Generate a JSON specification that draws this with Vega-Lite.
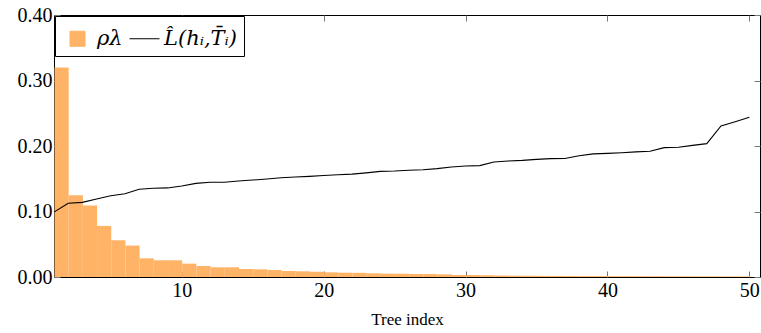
{
  "$schema": "https://vega.github.io/schema/vega-lite/v6.json",
  "width": 706,
  "height": 262,
  "autosize": "none",
  "padding": {"left": 54, "top": 15, "right": 1, "bottom": 56},
  "background": "white",
  "config": {
    "font": "Liberation Serif",
    "style": {
      "guide-label": {"font": "Liberation Serif", "fontSize": 20, "fill": "black"},
      "guide-title": {"font": "Liberation Serif", "fontSize": 17, "fill": "black", "fontWeight": "normal"}
    },
    "view": {"stroke": "black", "strokeWidth": 1},
    "axis": {
      "labelFont": "Liberation Serif",
      "titleFont": "Liberation Serif",
      "labelFontSize": 20,
      "titleFontSize": 17,
      "labelColor": "black",
      "titleColor": "black",
      "titleFontWeight": "normal",
      "domain": false,
      "grid": false,
      "tickColor": "#777",
      "tickWidth": 1,
      "tickSize": 6,
      "offset": -6
    },
    "legend": {
      "orient": "top-left",
      "offset": 1,
      "padding": 7,
      "strokeColor": "black",
      "fillColor": "white",
      "direction": "horizontal",
      "columnPadding": 4,
      "labelFont": "DejaVu Serif",
      "labelFontSize": 21,
      "labelFontStyle": "italic",
      "labelColor": "black",
      "labelLimit": 200,
      "cornerRadius": 0
    }
  },
  "data": {
    "values": [
      {"tree": 1, "rho": 0.320, "loss": 0.099},
      {"tree": 2, "rho": 0.125, "loss": 0.1125},
      {"tree": 3, "rho": 0.109, "loss": 0.114},
      {"tree": 4, "rho": 0.078, "loss": 0.119},
      {"tree": 5, "rho": 0.056, "loss": 0.124},
      {"tree": 6, "rho": 0.048, "loss": 0.127},
      {"tree": 7, "rho": 0.0285, "loss": 0.134},
      {"tree": 8, "rho": 0.0255, "loss": 0.1354},
      {"tree": 9, "rho": 0.0255, "loss": 0.136},
      {"tree": 10, "rho": 0.0204, "loss": 0.139},
      {"tree": 11, "rho": 0.0168, "loss": 0.143},
      {"tree": 12, "rho": 0.0148, "loss": 0.1446},
      {"tree": 13, "rho": 0.0148, "loss": 0.1446},
      {"tree": 14, "rho": 0.0122, "loss": 0.1466},
      {"tree": 15, "rho": 0.0117, "loss": 0.148},
      {"tree": 16, "rho": 0.0107, "loss": 0.1496},
      {"tree": 17, "rho": 0.0092, "loss": 0.1516},
      {"tree": 18, "rho": 0.0087, "loss": 0.1527},
      {"tree": 19, "rho": 0.0081, "loss": 0.1537},
      {"tree": 20, "rho": 0.0071, "loss": 0.155},
      {"tree": 21, "rho": 0.0066, "loss": 0.156},
      {"tree": 22, "rho": 0.0064, "loss": 0.157},
      {"tree": 23, "rho": 0.0056, "loss": 0.159},
      {"tree": 24, "rho": 0.0051, "loss": 0.1613},
      {"tree": 25, "rho": 0.0050, "loss": 0.1618},
      {"tree": 26, "rho": 0.0046, "loss": 0.163},
      {"tree": 27, "rho": 0.0045, "loss": 0.1638},
      {"tree": 28, "rho": 0.0040, "loss": 0.1654},
      {"tree": 29, "rho": 0.0031, "loss": 0.168},
      {"tree": 30, "rho": 0.0030, "loss": 0.1695},
      {"tree": 31, "rho": 0.0027, "loss": 0.170},
      {"tree": 32, "rho": 0.0023, "loss": 0.1756},
      {"tree": 33, "rho": 0.0021, "loss": 0.1772},
      {"tree": 34, "rho": 0.0019, "loss": 0.178},
      {"tree": 35, "rho": 0.0017, "loss": 0.1796},
      {"tree": 36, "rho": 0.0016, "loss": 0.1807},
      {"tree": 37, "rho": 0.0015, "loss": 0.181},
      {"tree": 38, "rho": 0.0014, "loss": 0.185},
      {"tree": 39, "rho": 0.0014, "loss": 0.188},
      {"tree": 40, "rho": 0.0013, "loss": 0.1888},
      {"tree": 41, "rho": 0.0013, "loss": 0.1898},
      {"tree": 42, "rho": 0.0012, "loss": 0.191},
      {"tree": 43, "rho": 0.0012, "loss": 0.192},
      {"tree": 44, "rho": 0.0011, "loss": 0.1975},
      {"tree": 45, "rho": 0.0011, "loss": 0.198},
      {"tree": 46, "rho": 0.0010, "loss": 0.201},
      {"tree": 47, "rho": 0.0010, "loss": 0.2036},
      {"tree": 48, "rho": 0.0009, "loss": 0.2305},
      {"tree": 49, "rho": 0.0009, "loss": 0.237},
      {"tree": 50, "rho": null, "loss": 0.2438}
    ]
  },
  "layer": [
    {
      "mark": {"type": "bar", "binSpacing": 0, "clip": true},
      "encoding": {
        "x": {
          "field": "tree",
          "type": "quantitative",
          "bin": {"binned": true, "step": 1},
          "scale": {"domain": [1, 50.75], "nice": false, "zero": false},
          "axis": {
            "values": [10, 20, 30, 40, 50],
            "format": "d",
            "title": "Tree index",
            "labelPadding": 3,
            "titlePadding": 11
          }
        },
        "y": {
          "field": "rho",
          "type": "quantitative",
          "scale": {"domain": [0, 0.4], "nice": false},
          "axis": {
            "values": [0, 0.1, 0.2, 0.3, 0.4],
            "format": ".2f",
            "title": null,
            "labelPadding": 2
          }
        },
        "color": {
          "datum": "ρλ",
          "type": "nominal",
          "scale": {"domain": ["ρλ", "L̂(hᵢ,T̄ᵢ)"], "range": ["#FFB366", "black"]},
          "legend": {
            "title": null,
            "encode": {
              "symbols": {
                "update": {
                  "shape": {"signal": "datum.value == 'ρλ' ? 'square' : 'stroke'"},
                  "size": {"signal": "datum.value == 'ρλ' ? 225 : 900"},
                  "fill": {"signal": "datum.value == 'ρλ' ? '#FFB366' : 'transparent'"},
                  "stroke": {"signal": "datum.value == 'ρλ' ? 'transparent' : 'black'"},
                  "strokeWidth": {"value": 1},
                  "opacity": {"value": 1}
                }
              }
            }
          }
        }
      }
    },
    {
      "mark": {"type": "line", "strokeWidth": 1.1, "clip": true},
      "encoding": {
        "x": {
          "field": "tree",
          "type": "quantitative",
          "axis": {"orient": "top", "values": [10, 20, 30, 40, 50], "labels": false, "title": null}
        },
        "y": {
          "field": "loss",
          "type": "quantitative",
          "axis": {"orient": "right", "values": [0, 0.1, 0.2, 0.3, 0.4], "labels": false, "title": null}
        },
        "color": {"datum": "L̂(hᵢ,T̄ᵢ)", "type": "nominal"}
      }
    }
  ],
  "resolve": {"axis": {"x": "independent", "y": "independent"}}
}
